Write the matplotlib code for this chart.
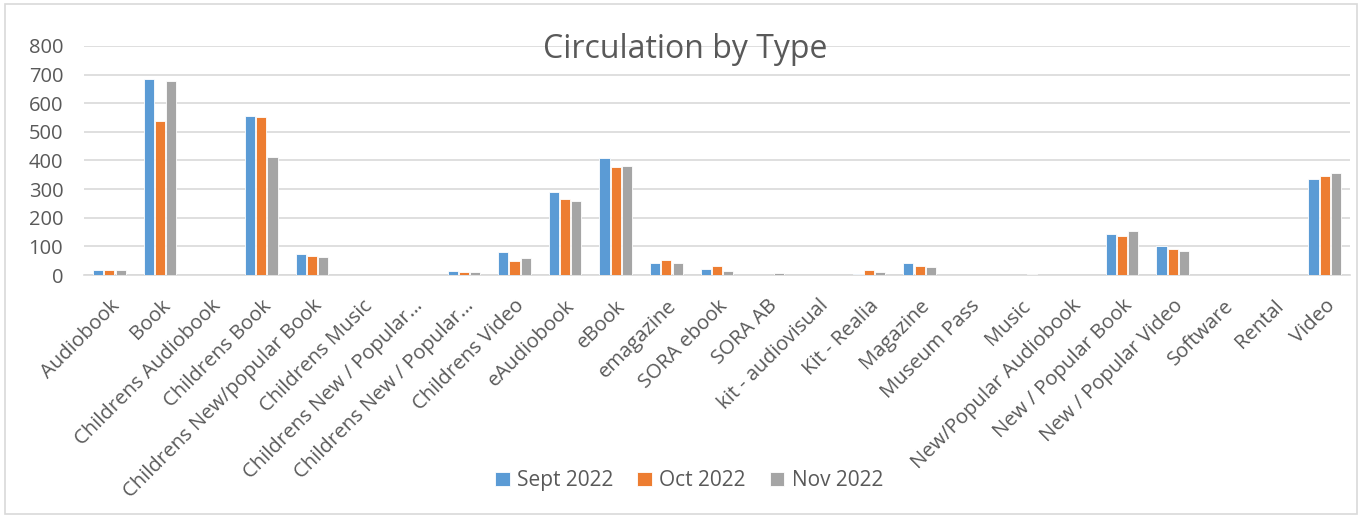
import numpy as np
import matplotlib.pyplot as plt
from matplotlib.patches import Rectangle

categories = [
    "Audiobook", "Book", "Childrens Audiobook", "Childrens Book",
    "Childrens New/popular Book", "Childrens Music",
    "Childrens New / Popular…", "Childrens New / Popular…",
    "Childrens Video", "eAudiobook", "eBook", "emagazine", "SORA ebook",
    "SORA AB", "kit - audiovisual", "Kit - Realia", "Magazine",
    "Museum Pass", "Music", "New/Popular Audiobook", "New / Popular Book",
    "New / Popular Video", "Software", "Rental", "Video",
]
sept = [17, 686, 1, 555, 73, 1, 0, 14, 79, 291, 407, 41, 21, 1, 0, 4, 43, 1, 0, 0, 143, 101, 0, 0, 334]
oct_ = [17, 538, 1, 551, 65, 1, 0, 12, 50, 265, 377, 52, 33, 1, 0, 17, 31, 0, 0, 0, 138, 92, 0, 0, 345]
nov = [18, 677, 1, 412, 63, 0, 0, 10, 59, 257, 379, 41, 14, 6, 0, 10, 28, 0, 3, 0, 153, 84, 0, 0, 355]
series = ["Sept 2022", "Oct 2022", "Nov 2022"]
colors = ["#5B9BD5", "#ED7D31", "#A5A5A5"]
yticks = [0, 100, 200, 300, 400, 500, 600, 700, 800]

plt.rcParams['font.family'] = ['Open Sans', 'DejaVu Sans']
txt = "#595959"

fig = plt.figure(figsize=(13.62, 5.16), dpi=100)
ax = fig.add_axes([0.0617, 0.467, 0.9295, 0.444])

x = np.arange(len(categories))
step = 0.222
for k, (vals, name, c) in enumerate(zip([sept, oct_, nov], series, colors)):
    ax.bar(x + (k - 1) * step, vals, width=0.2, color=c, label=name,
           edgecolor="white", linewidth=0.6, zorder=3)

ax.set_xlim(-0.5, len(categories) - 0.5)
ax.set_ylim(0, 800)
ax.set_yticks(yticks)
ax.set_yticklabels([str(v) for v in yticks], fontsize=14.5, color=txt)
ax.set_xticks(x)
ax.set_xticklabels(categories, rotation=45, ha="right", rotation_mode="anchor",
                   fontsize=14.6, color=txt)
ax.tick_params(axis="x", length=0, pad=15)
ax.tick_params(axis="y", length=0, pad=15)
ax.grid(axis="y", color="#D9D9D9", linewidth=1.2, zorder=0)
for s in ["top", "right", "left"]:
    ax.spines[s].set_visible(False)
ax.spines["bottom"].set_color("#D9D9D9")
ax.spines["bottom"].set_linewidth(1.2)

fig.text(0.503, 0.905, "Circulation by Type", ha="center", va="center",
         fontsize=23, color=txt)

fig.legend(loc="center", bbox_to_anchor=(0.506, 0.068), ncol=3, frameon=False,
           fontsize=15, labelcolor=txt, handlelength=0.7, handleheight=0.7,
           handletextpad=0.35, columnspacing=1.15)

fig.patches.append(Rectangle((0.004, 0.004), 0.992, 0.988, transform=fig.transFigure,
                             fill=False, edgecolor="#D9D9D9", linewidth=1.2))

fig.savefig("out.png", dpi=100, facecolor="white")
